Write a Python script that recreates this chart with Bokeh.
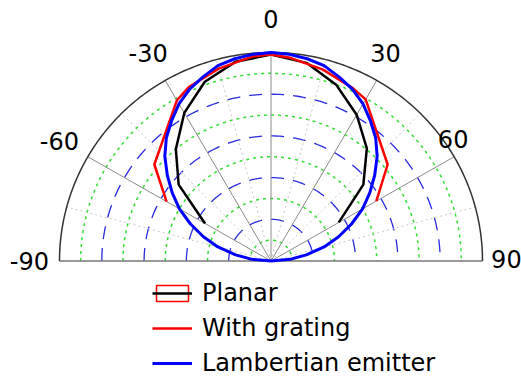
import numpy as np
from bokeh.plotting import figure
from bokeh.models import Range1d, Legend, LegendItem
from bokeh.core.properties import value
from bokeh.embed import file_html
from bokeh.resources import INLINE

# ---- data (angles in degrees from the vertical, normalised intensity) ----
planar_angles = [-60, -50, -40, -30, -20, -10, 0, 10, 20, 30, 40, 50, 60]
planar_values = [0.36, 0.57, 0.70, 0.82, 0.915, 0.97, 0.99, 0.965, 0.90, 0.81, 0.705, 0.57, 0.37]

grating_angles = [-60, -50, -30, -25, -15, -5, 0, 5, 15, 25, 30, 50, 60]
grating_values = [0.57, 0.72, 0.89, 0.92, 0.955, 0.985, 0.99, 0.98, 0.95, 0.915, 0.895, 0.72, 0.575]

lamb_angles = [-90, -85, -80, -75, -70, -65, -60, -55, -50, -45, -40, -35, -30, -25, -20, -15, -10, -5,
               0, 5, 10, 15, 20, 25, 30, 35, 40, 45, 50, 55, 60, 65, 70, 75, 80, 85, 90]
lamb_values = [0.0, 0.09, 0.17, 0.26, 0.34, 0.42, 0.50, 0.57, 0.64, 0.71, 0.77, 0.82, 0.87, 0.91, 0.94, 0.97, 0.985, 0.995,
               1.0, 0.995, 0.985, 0.97, 0.94, 0.91, 0.87, 0.82, 0.77, 0.71, 0.64, 0.57, 0.50, 0.42, 0.34, 0.26, 0.17, 0.09, 0.0]

tick_labels = ["-90", "-60", "-30", "0", "30", "60", "90"]
# label placement (angle, radius) as laid out in the original figure
label_angle = [-90, -60, -30.2, 0, 28.5, 55.9, 89.5]
label_radius = [1.142, 1.155, 1.155, 1.159, 1.135, 1.04, 1.113]

ring_green = [0.1, 0.3, 0.5, 0.7, 0.9]
ring_blue = [0.2, 0.4, 0.6, 0.8]
spoke_solid = [-60, -30, 0, 30, 60]
spoke_dotted = [-75, -45, -15, 15, 45, 75]


def to_xy(angles, radii):
    a = np.radians(np.asarray(angles, dtype=float))
    r = np.asarray(radii, dtype=float)
    return list(r * np.sin(a)), list(r * np.cos(a))


W, H = 521, 376
CX, CY, RX, RY = 270.5, 260.5, 211.5, 208.5
p = figure(width=W, height=H, output_backend="svg", toolbar_location=None,
           x_range=Range1d(-CX / RX, (W - CX) / RX),
           y_range=Range1d(-(H - CY) / RY, CY / RY),
           min_border=0)
p.axis.visible = False
p.grid.visible = False
p.outline_line_color = None
p.background_fill_color = "white"

# grid rings
th = np.linspace(-90, 90, 181)
gx, gy = [], []
for r in ring_green:
    x, y = to_xy(th, [r] * len(th))
    gx.append(x); gy.append(y)
p.multi_line(gx, gy, line_color="#33dd33", line_width=1.5, line_dash="3 4")
bx, by = [], []
for r in ring_blue:
    x, y = to_xy(th, [r] * len(th))
    bx.append(x); by.append(y)
p.multi_line(bx, by, line_color="#2a2ae0", line_width=1.3, line_dash="13 9")

# spokes
sx, sy = [], []
for a in spoke_dotted:
    x, y = to_xy([a, a], [0, 1])
    sx.append(x); sy.append(y)
p.multi_line(sx, sy, line_color="#c8c8c8", line_width=1, line_dash="2 3")
sx, sy = [], []
for a in spoke_solid:
    x, y = to_xy([a, a], [0, 1])
    sx.append(x); sy.append(y)
p.multi_line(sx, sy, line_color="#8a8a8a", line_width=1)

# baseline and outer arc
p.line([-1, 1], [0, 0], line_color="#777777", line_width=1.5)
ox, oy = to_xy(th, [1.0] * len(th))
p.line(ox, oy, line_color="#333333", line_width=1.5)

# angle labels
lx, ly = to_xy(label_angle, label_radius)
p.text(x=lx, y=ly, text=tick_labels, text_align="center", text_baseline="middle",
       text_font=value("DejaVu Sans"), text_font_size="24px", text_color="black")

# data curves
x, y = to_xy(planar_angles, planar_values)
r_planar = p.line(x, y, line_color="black", line_width=2.5)
x, y = to_xy(grating_angles, grating_values)
r_grating = p.line(x, y, line_color="#ff0000", line_width=2.5)
x, y = to_xy(lamb_angles, lamb_values)
r_lamb = p.line(x, y, line_color="#0000ff", line_width=3)

# legend frame for the Planar entry (drawn outside the visible range)
r_box = p.rect(x=[50], y=[50], width=0.1, height=0.1, fill_alpha=0,
               line_color="#ff0000", line_width=1.5)

legend = Legend(items=[
    LegendItem(label="Planar", renderers=[r_box, r_planar]),
    LegendItem(label="With grating", renderers=[r_grating]),
    LegendItem(label="Lambertian emitter", renderers=[r_lamb]),
], location=(152, -4), padding=0, margin=0, spacing=0,
    glyph_width=40, glyph_height=20, label_height=35, label_standoff=10,
    label_text_font="DejaVu Sans", label_text_font_size="24px", label_text_color="black",
    border_line_color=None, background_fill_alpha=0)
p.add_layout(legend)

open("out.html", "w").write(file_html(p, INLINE))
